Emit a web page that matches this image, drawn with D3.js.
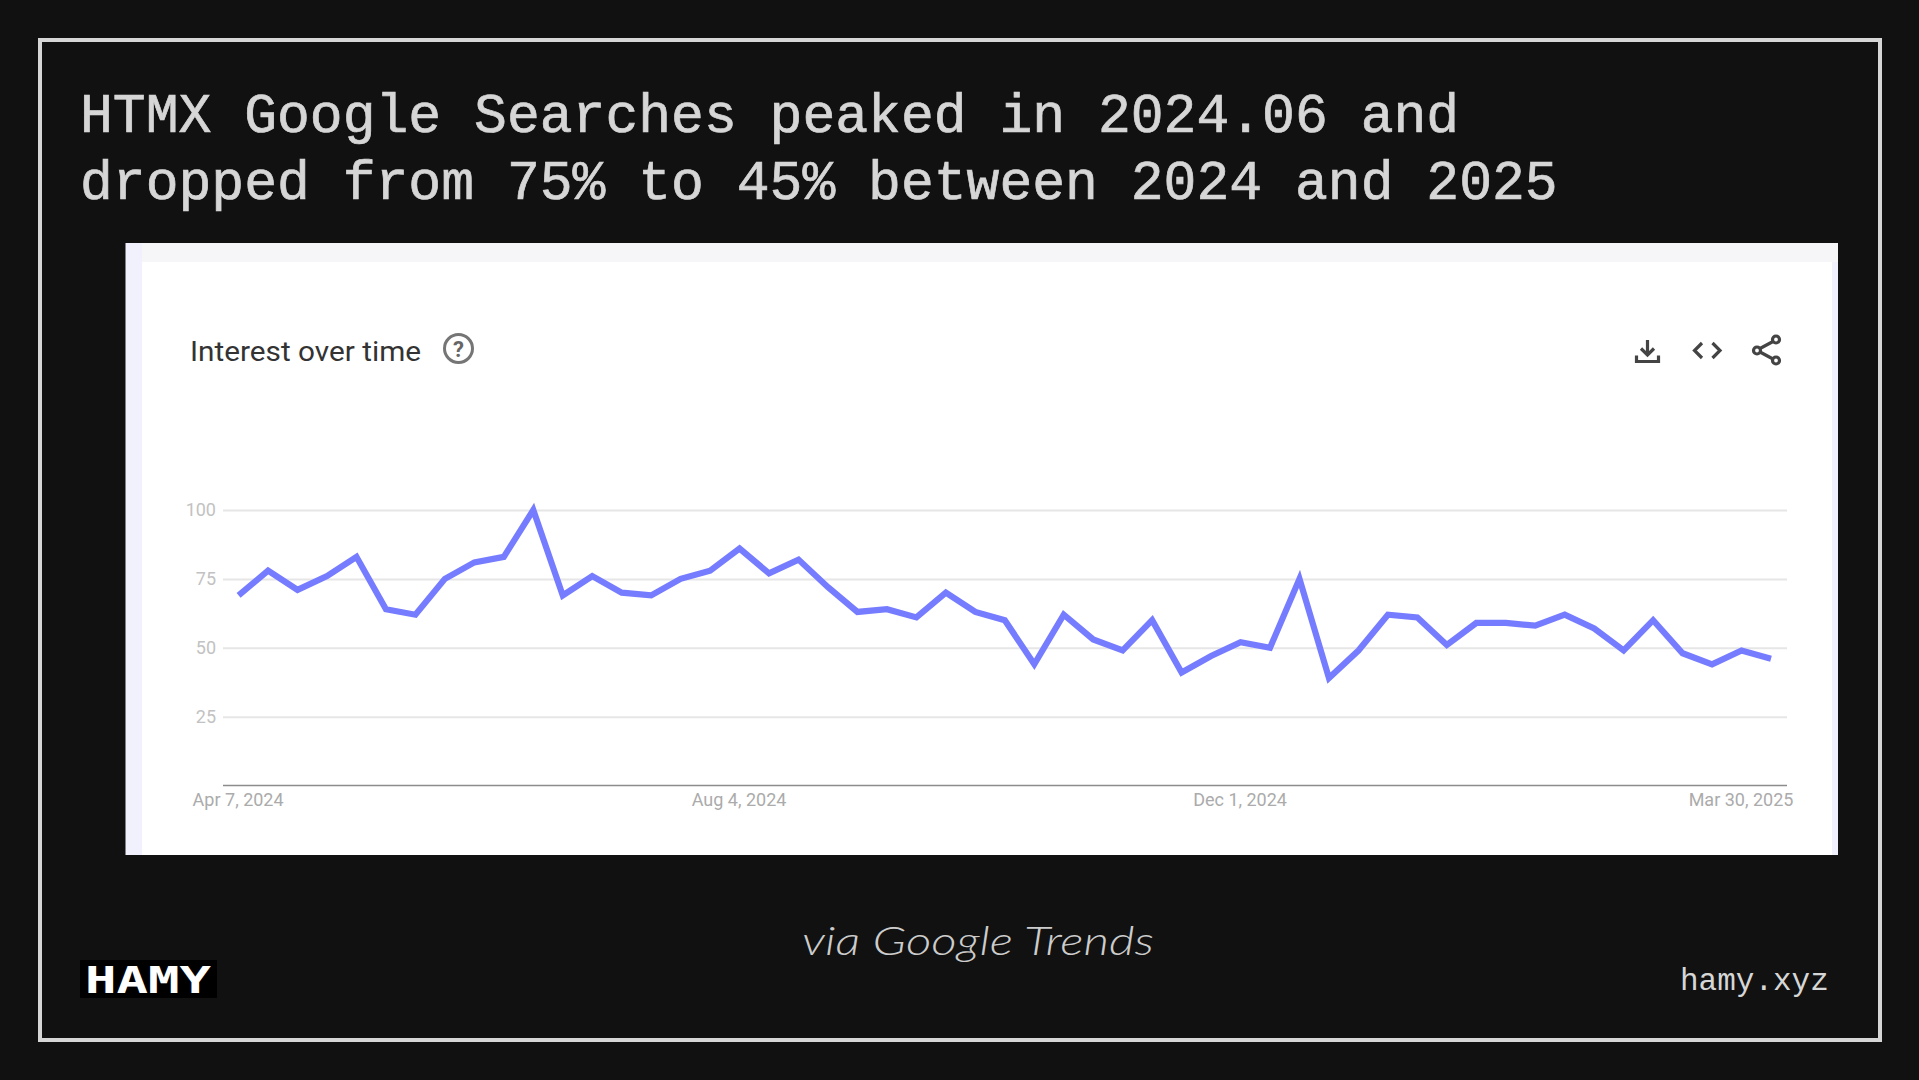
<!DOCTYPE html>
<html>
<head>
<meta charset="utf-8">
<title>HTMX Google Searches</title>
<script src="https://cdn.jsdelivr.net/npm/d3@7/dist/d3.min.js"></script>
<style>
html,body{margin:0;padding:0;background:#111;overflow:hidden}
svg{display:block}
</style>
</head>
<body>
<svg id="c" width="1919" height="1080"></svg>
<script>
const titleLines = ["HTMX Google Searches peaked in 2024.06 and", "dropped from 75% to 45% between 2024 and 2025"];
const weeks = ["2024-04-07","2024-04-14","2024-04-21","2024-04-28","2024-05-05","2024-05-12","2024-05-19","2024-05-26","2024-06-02","2024-06-09","2024-06-16","2024-06-23","2024-06-30","2024-07-07","2024-07-14","2024-07-21","2024-07-28","2024-08-04","2024-08-11","2024-08-18","2024-08-25","2024-09-01","2024-09-08","2024-09-15","2024-09-22","2024-09-29","2024-10-06","2024-10-13","2024-10-20","2024-10-27","2024-11-03","2024-11-10","2024-11-17","2024-11-24","2024-12-01","2024-12-08","2024-12-15","2024-12-22","2024-12-29","2025-01-05","2025-01-12","2025-01-19","2025-01-26","2025-02-02","2025-02-09","2025-02-16","2025-02-23","2025-03-02","2025-03-09","2025-03-16","2025-03-23","2025-03-30","2025-04-06"];
const interest = [69,78,71,76,83,64,62,75,81,83,100,69,76,70,69,75,78,86,77,82,72,63,64,61,70,63,60,44,62,53,49,60,41,47,52,50,75,39,49,62,61,51,59,59,58,62,57,49,60,48,44,49,46];
const yTicks = [25,50,75,100];
const xTickDates = ["2024-04-07","2024-08-04","2024-12-01","2025-03-30"];

const svg = d3.select("#c");
const parse = d3.utcParse("%Y-%m-%d");
const fmt = d3.utcFormat("%b %-d, %Y");
const mono = "'Liberation Mono', monospace";

// page frame
svg.append("rect").attr("width",1919).attr("height",1080).attr("fill","#111111");
svg.append("rect").attr("x",40).attr("y",40).attr("width",1840).attr("height",1000)
  .attr("fill","none").attr("stroke","#d6d6d6").attr("stroke-width",4);

// title
svg.append("g").selectAll("text").data(titleLines).join("text")
  .attr("x",80).attr("y",(d,i)=>131.5+i*67)
  .attr("fill","#d6d6d6").attr("stroke","#d6d6d6").attr("stroke-width",0.7)
  .attr("font-family",mono).attr("font-size",54.73).text(d=>d);

// screenshot panel
svg.append("rect").attr("x",125.5).attr("y",243).attr("width",1712.5).attr("height",612).attr("fill","#f1f1fd");
svg.append("rect").attr("x",142).attr("y",243).attr("width",1696).attr("height",19).attr("fill","#f6f6f8");
svg.append("rect").attr("x",142).attr("y",262).attr("width",1690).attr("height",593).attr("fill","#ffffff");

// card header
svg.append("text").attr("x",190).attr("y",361).attr("fill","#333").attr("font-family","Roboto, sans-serif")
  .attr("font-size",27.5).attr("textLength",231).attr("lengthAdjust","spacingAndGlyphs").text("Interest over time");
const help = svg.append("g");
help.append("circle").attr("cx",458.5).attr("cy",348.5).attr("r",14).attr("fill","none").attr("stroke","#757575").attr("stroke-width",3);
help.append("text").attr("x",458.5).attr("y",356.5).attr("text-anchor","middle").attr("fill","#666")
  .attr("font-family","Roboto, sans-serif").attr("font-weight",700).attr("font-size",22).text("?");

const icons = svg.append("g").attr("fill","none").attr("stroke","#444").attr("stroke-width",3.2);
icons.append("path").attr("d","M1647.5 340V354M1641 348.5L1647.5 355L1654 348.5M1636.5 355.5V361.5H1658.5V355.5");
icons.append("path").attr("d","M1702 343L1694.5 350.5L1702 358M1712.5 343L1720 350.5L1712.5 358");
icons.append("path").attr("d","M1773 341.5L1760 348.5M1760 352L1773 359");
[[1776,339.5],[1757,350.5],[1776,360.5]].forEach(p=>icons.append("circle").attr("cx",p[0]).attr("cy",p[1]).attr("r",3.5));

// chart
const dates = weeks.map(parse);
const x = d3.scaleTime().domain([dates[0],dates[dates.length-1]]).range([238.6,1771]);
const y = d3.scaleLinear().domain([0,100]).range([785.5,510]);
const plotL = 223, plotR = 1787;

const gy = svg.append("g").attr("transform",`translate(${plotL},0)`)
  .call(d3.axisLeft(y).tickValues(yTicks).tickSize(-(plotR-plotL)).tickPadding(7));
gy.select(".domain").remove();
gy.selectAll("line").attr("stroke","#e6e6e6").attr("stroke-width",2);
gy.selectAll("text").attr("fill","#c2c2c2").attr("font-family","Roboto, sans-serif").attr("font-size",18);

const gx = svg.append("g").attr("transform","translate(-1,785.5)")
  .call(d3.axisBottom(x).tickValues(xTickDates.map(parse)).tickSize(0).tickPadding(7.5).tickFormat(fmt));
gx.select(".domain").remove();
gx.selectAll("text").attr("fill","#ababab").attr("font-family","Roboto, sans-serif").attr("font-size",18);
svg.append("line").attr("x1",plotL).attr("x2",plotR).attr("y1",y(0)).attr("y2",y(0)).attr("stroke","#8c8c8c").attr("stroke-width",1.6);

const line = d3.line().x((d,i)=>x(dates[i])).y(d=>y(d));
svg.append("path").datum(interest).attr("d",line).attr("fill","none").attr("stroke","#767cff")
  .attr("stroke-width",6.2).attr("stroke-linejoin","miter");

// footer
svg.append("text").attr("x",802).attr("y",955).attr("fill","#cccccc").attr("font-family","Lato, sans-serif")
  .attr("font-style","italic").attr("font-weight",300).attr("font-size",40).attr("textLength",352).attr("lengthAdjust","spacingAndGlyphs").text("via Google Trends");
svg.append("text").attr("x",1680).attr("y",990).attr("fill","#d6d6d6").attr("font-family",mono).attr("font-size",31).text("hamy.xyz");

svg.append("rect").attr("x",80).attr("y",960).attr("width",137).attr("height",38).attr("fill","#000");
svg.append("text").attr("x",85).attr("y",992.5).attr("fill","#fff").attr("font-family","'DejaVu Sans Mono', monospace")
  .attr("font-weight",700).attr("font-size",37).attr("textLength",126).attr("lengthAdjust","spacingAndGlyphs").text("HAMY");
</script>
</body>
</html>
